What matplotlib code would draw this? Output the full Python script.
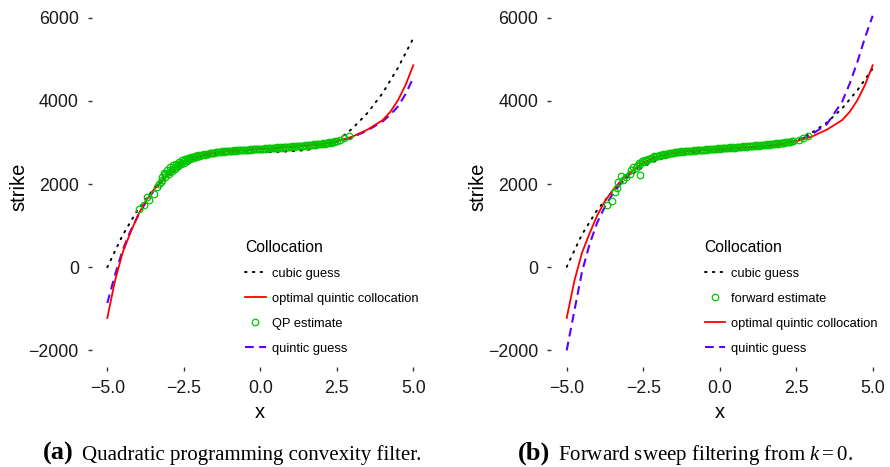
import matplotlib
matplotlib.use("Agg")
import matplotlib.pyplot as plt

plt.rcParams['font.family'] = ['Liberation Sans', 'DejaVu Sans']
plt.rcParams['mathtext.fontset'] = 'custom'
plt.rcParams['mathtext.rm'] = 'Liberation Serif'
plt.rcParams['mathtext.it'] = 'Liberation Serif:italic'

# ---- data ----
# optimal quintic collocation (same in both panels)
red_x = [-5, -4.75, -4.5, -4.25, -4, -3.75, -3.5, -3.25, -3, -2.5, -2, -1.5, -1, -0.5,
         0, 0.5, 1, 1.5, 2, 2.5, 3, 3.5, 4, 4.25, 4.5, 4.75, 5]
red_y = [-1220, -330, 350, 820, 1250, 1590, 1850, 2060, 2240, 2520, 2680, 2755, 2800, 2825,
         2845, 2870, 2895, 2925, 2965, 3030, 3140, 3310, 3540, 3740, 4020, 4390, 4860]

cubic_x = [-5, -4.5, -4, -3.5, -3, -2.5, -2, -1.5, -1, -0.5, 0, 0.5, 1, 1.5, 2, 2.5, 3, 3.5, 4, 4.5, 5]
a_cubic_y = [0, 770, 1390, 1870, 2230, 2480, 2640, 2720, 2755, 2765, 2770, 2775, 2790, 2820,
             2890, 3040, 3330, 3710, 4190, 4800, 5510]
b_cubic_y = [10, 790, 1380, 1830, 2170, 2420, 2590, 2690, 2750, 2790, 2815, 2840, 2865, 2895,
             2945, 3040, 3230, 3480, 3820, 4260, 4780]

quint_x = red_x
a_quint_y = [-860, -190, 410, 860, 1230, 1550, 1820, 2040, 2230, 2515, 2675, 2755, 2800, 2825,
             2845, 2870, 2895, 2925, 2960, 3020, 3125, 3290, 3510, 3670, 3870, 4170, 4560]
b_quint_y = [-2000, -1050, -110, 560, 1080, 1460, 1760, 2000, 2200, 2500, 2665, 2750, 2795, 2820,
             2840, 2865, 2890, 2920, 2960, 3040, 3190, 3440, 3980, 4420, 4940, 5530, 6050]

# QP estimate (panel a): loose points at the ends plus dense rows
qp_loose_x = [-3.98, -3.81, -3.70, -3.65, -3.49, -3.38, -3.32, -3.25, 2.60, 2.73, 2.89]
qp_loose_y = [1390, 1490, 1690, 1620, 1760, 1930, 2010, 2060, 3050, 3115, 3147]
qp_row1_x = [-3.2, -3.1, -3.0, -2.9, -2.8, -2.7, -2.6, -2.5, -2.4, -2.3, -2.2, -2.1, -2.0,
             -1.9, -1.8, -1.7, -1.6, -1.5, -1.4, -1.3, -1.2, -1.1, -1.0, -0.9, -0.8, -0.7,
             -0.6, -0.5, -0.4, -0.3, -0.2, -0.1, 0.0, 0.1, 0.2, 0.3, 0.4, 0.5, 0.6, 0.7,
             0.8, 0.9, 1.0, 1.1, 1.2, 1.3, 1.4, 1.5, 1.6, 1.7, 1.8, 1.9, 2.0, 2.1, 2.2,
             2.3, 2.4, 2.5]
qp_row1_y = [2100, 2170, 2240, 2310, 2370, 2425, 2475, 2520, 2560, 2595, 2625, 2652, 2675,
             2695, 2712, 2727, 2740, 2752, 2762, 2771, 2779, 2787, 2794, 2800, 2806, 2811,
             2816, 2821, 2826, 2831, 2836, 2841, 2845, 2850, 2855, 2860, 2865, 2870, 2875, 2880,
             2885, 2890, 2895, 2901, 2907, 2913, 2919, 2925, 2932, 2940, 2948, 2956, 2965, 2976, 2988,
             3000, 3014, 3030]
qp_row2_x = [-3.15, -3.05, -2.95, -2.85, -2.75, -2.65, -2.55, -2.45, -2.35, -2.25, -2.15, -2.05,
             -1.95, -1.85, -1.75, -1.65, -1.55, -1.45, -1.35, -1.25, -1.15, -1.05, -0.95, -0.85,
             -0.75, -0.65, -0.55, -0.45, -0.35, -0.25, -0.15, -0.05, 0.05, 0.15, 0.25, 0.35,
             0.45, 0.55, 0.65, 0.75, 0.85, 0.95, 1.05, 1.15, 1.25, 1.35, 1.45, 1.55, 1.65,
             1.75, 1.85, 1.95, 2.05, 2.15, 2.25, 2.35, 2.45]
qp_row2_y = [2260, 2330, 2400, 2450, 2495, 2535, 2570, 2600, 2628, 2652, 2672, 2690,
             2706, 2720, 2733, 2746, 2757, 2767, 2776, 2785, 2793, 2800, 2807, 2813,
             2818, 2823, 2828, 2833, 2838, 2843, 2848, 2853, 2857, 2862, 2867, 2872,
             2877, 2882, 2887, 2892, 2897, 2902, 2907, 2913, 2919, 2925, 2932, 2938, 2946,
             2954, 2962, 2971, 2980, 2992, 3004, 3017, 3032]
qp_row3_x = [-3.2, -3.1, -3.0, -2.9, -2.8, -2.7, -2.6, -2.5, -2.4, -2.3, -2.2, -2.1, -2.0]
qp_row3_y = [2165, 2235, 2300, 2365, 2420, 2470, 2512, 2552, 2587, 2617, 2643, 2666, 2686]

# forward estimate (panel b)
fwd_loose_x = [-3.68, -3.53, -3.42, -3.37, -3.32, -3.21, -3.16, -3.05, -2.94, -2.89, -2.83,
               -2.75, -2.61, 2.59, 2.72, 2.88]
fwd_loose_y = [1490, 1600, 1810, 1900, 2050, 2200, 2100, 2180, 2250, 2350, 2410,
               2380, 2210, 3067, 3115, 3147]
fwd_row1_x = [-2.7, -2.6, -2.5, -2.4, -2.3, -2.2, -2.1, -2.0, -1.9, -1.8, -1.7, -1.6, -1.5,
              -1.4, -1.3, -1.2, -1.1, -1.0, -0.9, -0.8, -0.7, -0.6, -0.5, -0.4, -0.3, -0.2,
              -0.1, 0.0, 0.1, 0.2, 0.3, 0.4, 0.5, 0.6, 0.7, 0.8, 0.9, 1.0, 1.1, 1.2, 1.3,
              1.4, 1.5, 1.6, 1.7, 1.8, 1.9, 2.0, 2.1, 2.2, 2.3, 2.4]
fwd_row1_y = [2430, 2480, 2525, 2562, 2597, 2627, 2653, 2675, 2695, 2712, 2727, 2740, 2752,
              2762, 2771, 2779, 2787, 2794, 2800, 2806, 2812, 2818, 2824, 2830, 2836, 2842,
              2848, 2853, 2858, 2863, 2868, 2874, 2880, 2886, 2892, 2898, 2904, 2910, 2916, 2922, 2929,
              2936, 2943, 2950, 2958, 2966, 2974, 2983, 2993, 3004, 3016, 3030]
fwd_row2_x = [-2.65, -2.55, -2.45, -2.35, -2.25, -2.15, -2.05, -1.95, -1.85, -1.75, -1.65,
              -1.55, -1.45, -1.35, -1.25, -1.15, -1.05, -0.95, -0.85, -0.75, -0.65, -0.55,
              -0.45, -0.35, -0.25, -0.15, -0.05, 0.05, 0.15, 0.25, 0.35, 0.45, 0.55, 0.65,
              0.75, 0.85, 0.95, 1.05, 1.15, 1.25, 1.35, 1.45, 1.55, 1.65, 1.75, 1.85, 1.95,
              2.05, 2.15, 2.25, 2.35]
fwd_row2_y = [2500, 2545, 2585, 2615, 2640, 2665, 2687, 2705, 2720, 2734, 2746,
              2757, 2767, 2776, 2785, 2793, 2800, 2807, 2813, 2819, 2825, 2831,
              2837, 2843, 2849, 2855, 2861, 2866, 2871, 2876, 2882, 2888, 2894, 2900,
              2906, 2912, 2918, 2924, 2930, 2937, 2944, 2951, 2958, 2966, 2974, 2982, 2991,
              3000, 3011, 3023, 3036]

xticks = [-5, -2.5, 0, 2.5, 5]
yticks = [-2000, 0, 2000, 4000, 6000]

RED = '#ff0000'
GREEN = '#00c800'
BLUE = '#5a00ff'

fig = plt.figure(figsize=(8.9, 4.67), dpi=100)
W, H = 890.0, 467.0
ax_a = fig.add_axes([92 / W, 100 / H, 336.6 / W, 367 / H])
ax_b = fig.add_axes([551.4 / W, 100 / H, 336.6 / W, 367 / H])


def style(ax):
    ax.set_xlim(-5.5, 5.5)
    ax.set_ylim(-2400, 6430)
    ax.set_xticks(xticks)
    ax.set_yticks(yticks)
    for s in ax.spines.values():
        s.set_visible(False)
    ax.tick_params(length=3, width=1, color='#333333', labelsize=12.8,
                   labelcolor='#1a1a1a', pad=6.5)
    ax.set_xlabel('x', fontsize=14.5)
    ax.set_ylabel('strike', fontsize=14.5)
    ax.xaxis.label.set_va('baseline')
    ax.yaxis.label.set_va('baseline')
    ax.xaxis.set_label_coords(0.5, -0.139)
    ax.yaxis.set_label_coords(-0.202, 0.49)


def draw_lines(ax, cubic_y, quint_y):
    c = ax.plot(cubic_x, cubic_y, color='black', lw=1.4, ls=(0, (0.8, 3.2)),
                dash_capstyle='round', label='cubic guess')[0]
    q = ax.plot(quint_x, quint_y, color=BLUE, lw=1.5, ls=(0, (4.2, 2.6)),
                label='quintic guess')[0]
    r = ax.plot(red_x, red_y, color=RED, lw=1.3, label='optimal quintic collocation')[0]
    return c, q, r


def draw_points(ax, xs, ys, label):
    px, py = [], []
    for a, b in zip(xs, ys):
        px += a
        py += b
    return ax.plot(px, py, ls='none', marker='o', ms=4.7, mfc='none', mec=GREEN,
                   mew=0.9, label=label)[0]


def legend(ax, handles):
    ax.legend(handles=handles, title='Collocation', loc='upper left',
              bbox_to_anchor=(0.455, 0.347), frameon=False, fontsize=9.3,
              title_fontsize=11.3, alignment='left', borderpad=0,
              borderaxespad=0, handlelength=1.6, handletextpad=0.45,
              labelspacing=1.01, numpoints=1)


# panel a
style(ax_a)
c, q, r = draw_lines(ax_a, a_cubic_y, a_quint_y)
g = draw_points(ax_a, [qp_loose_x, qp_row1_x, qp_row2_x, qp_row3_x],
                [qp_loose_y, qp_row1_y, qp_row2_y, qp_row3_y], 'QP estimate')
legend(ax_a, [c, r, g, q])

# panel b
style(ax_b)
c, q, r = draw_lines(ax_b, b_cubic_y, b_quint_y)
g = draw_points(ax_b, [fwd_loose_x, fwd_row1_x, fwd_row2_x],
                [fwd_loose_y, fwd_row1_y, fwd_row2_y], 'forward estimate')
legend(ax_b, [c, g, r, q])

# captions
base = (H - 460) / H
fig.text(43 / W, base, '(a)', fontsize=19, fontweight='bold',
         family='Liberation Serif', va='baseline')
fig.text(82 / W, base, 'Quadratic programming convexity filter.', fontsize=15,
         family='Liberation Serif', va='baseline')
fig.text(518 / W, base, '(b)', fontsize=19, fontweight='bold',
         family='Liberation Serif', va='baseline')
fig.text(558 / W, base, r'Forward sweep filtering from $k = 0$.', fontsize=15,
         family='Liberation Serif', va='baseline')

fig.savefig('out.png', dpi=100)
